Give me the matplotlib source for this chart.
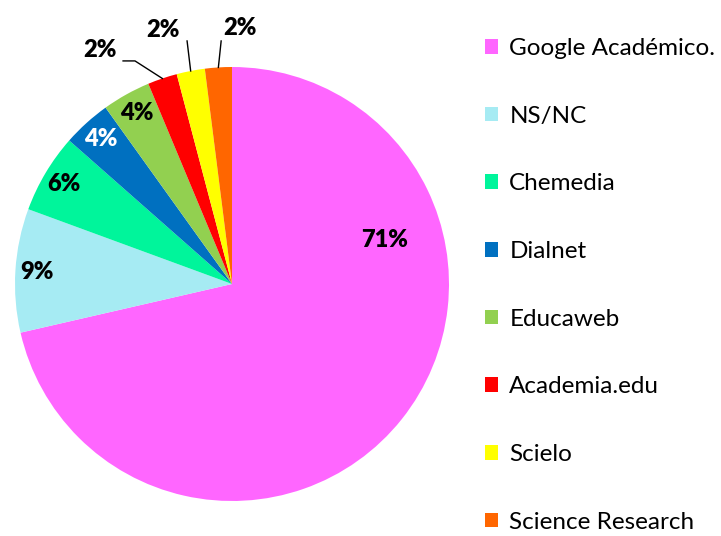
import matplotlib.pyplot as plt
import numpy as np
from matplotlib.patches import Patch

# --- datos ---
categorias = ['Google Académico.', 'NS/NC', 'Chemedia', 'Dialnet', 'Educaweb',
              'Academia.edu', 'Scielo', 'Science Research']
valores = [71.4, 9.2, 5.9, 3.6, 3.6, 2.2, 2.1, 2.0]
colores = ['#FF66FF', '#A6EBF3', '#00F59B', '#0070C0', '#92D050',
           '#FF0000', '#FFFF00', '#FF6600']
color_texto = ['black', 'black', 'black', 'white', 'black', 'black', 'black', 'black']

plt.rcParams['font.family'] = ['Lato', 'DejaVu Sans']

fig = plt.figure(figsize=(7.21, 5.36), dpi=100)
ax = fig.add_axes([15 / 721, 35 / 536, 434 / 721, 434 / 536])

wedges, textos, autotextos = ax.pie(
    valores, colors=colores, startangle=90, counterclock=False,
    autopct='%.0f%%', pctdistance=0.9, radius=1,
    wedgeprops=dict(linewidth=0),
    textprops=dict(fontsize=17, fontweight='heavy'))
ax.set_xlim(-1, 1)
ax.set_ylim(-1, 1)
ax.set_aspect('equal')
ax.axis('off')

for t, c in zip(autotextos, color_texto):
    t.set_color(c)

# etiqueta principal
autotextos[0].set_position((0.705, 0.203))

# etiquetas exteriores con línea guía
externas = {
    5: dict(texto=(-0.608, 1.078), codo=(-0.447, 1.028), inicio=(-0.502, 1.028)),
    6: dict(texto=(-0.318, 1.170), codo=(-0.207, 1.120), inicio=(-0.207, 1.120)),
    7: dict(texto=(0.037, 1.180), codo=(-0.050, 1.120), inicio=(-0.050, 1.120)),
}
for i, p in externas.items():
    w = wedges[i]
    ang = np.deg2rad((w.theta1 + w.theta2) / 2)
    borde = (np.cos(ang), np.sin(ang))
    autotextos[i].set_position(p['texto'])
    autotextos[i].set_clip_on(False)
    ax.plot([p['inicio'][0], p['codo'][0], borde[0]],
            [p['inicio'][1], p['codo'][1], borde[1]],
            color='black', linewidth=1, clip_on=False)

handles = [Patch(facecolor=c, edgecolor='none') for c in colores]
fig.legend(handles, categorias, loc='upper left', bbox_to_anchor=(485 / 721, 1 - 38 / 536),
           frameon=False, fontsize=17.5, handlelength=0.55, handleheight=0.55,
           handletextpad=0.45, labelspacing=1.92, borderpad=0, borderaxespad=0)

plt.savefig('out.png', dpi=100)
